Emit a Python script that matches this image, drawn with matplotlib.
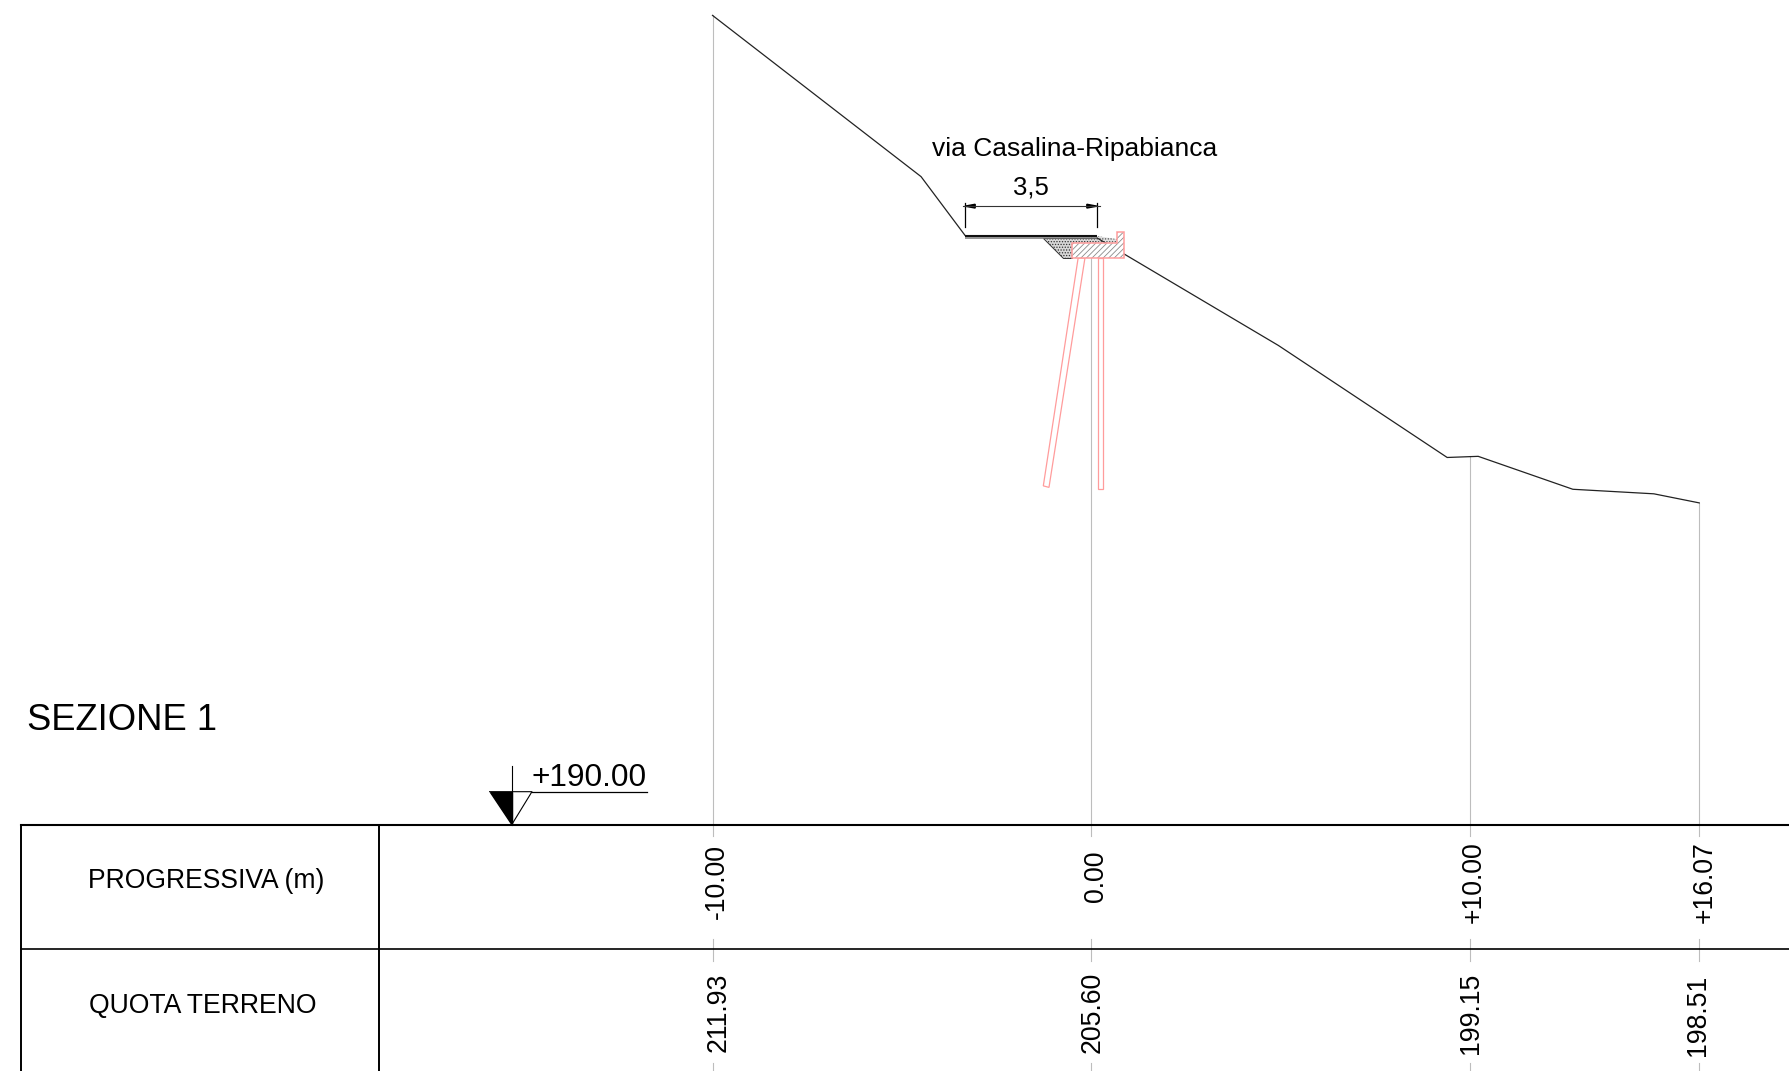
import numpy as np
import matplotlib
matplotlib.use('Agg')
import matplotlib.pyplot as plt
from matplotlib.patches import Polygon

plt.rcParams['font.family'] = ['Liberation Sans', 'DejaVu Sans']
plt.rcParams['hatch.linewidth'] = 0.6

# ground profile, progressive (m) and elevation (m)
terrain_up_x = [-10.0, -4.49, -3.33]
terrain_up_z = [211.39, 207.13, 205.58]
terrain_down_x = [0.16, 4.95, 9.41, 10.23, 12.73, 14.87, 16.07]
terrain_down_z = [205.51, 202.67, 199.71, 199.74, 198.87, 198.75, 198.51]

stations = [-10.0, 0.0, 10.0, 16.07]
station_tops = [211.39, 205.55, 199.74, 198.51]
progressive_labels = ['-10.00', '0.00', '+10.00', '+16.07']
quota_labels = ['211.93', '205.60', '199.15', '198.51']
progressive_dx = [0.11, 0.14, 0.11, 0.15]
progressive_z = [188.5, 188.65, 188.5, 188.5]
quota_dx = [0.17, 0.03, 0.03, -0.03]
quota_z = [185.05, 185.05, 185.02, 184.97]

road_x = [-3.33, 0.16]
road_top_z = [205.57, 205.57]
road_base_z = [205.51, 205.51]

# retaining wall and piles
wall_x = [-0.50, 0.69, 0.69, 0.87, 0.87, -0.50]
wall_z = [205.38, 205.38, 205.67, 205.67, 204.98, 204.98]
pile_a_x = [-0.34, -0.16, -1.11, -1.26]
pile_a_z = [204.98, 204.98, 198.92, 198.96]
pile_b_x = [0.19, 0.33, 0.33, 0.19]
pile_b_z = [204.98, 204.98, 198.88, 198.88]

fill_x = [-1.27, 0.16, 0.16, -0.50, -0.50, -0.74]
fill_z = [205.51, 205.51, 205.38, 205.38, 204.98, 204.98]
crown_x = [0.16, 0.69, 0.69, 0.16]
crown_z = [205.56, 205.48, 205.38, 205.38]

fig = plt.figure(figsize=(17.89, 10.71), dpi=100)
ax = fig.add_axes([0, 0, 1, 1])
# 37.85 px per metre both ways, 0.00 at x=1091, +190 at y=825
ax.set_xlim(-1091 / 37.85, (1789 - 1091) / 37.85)
ax.set_ylim(190 - (1071 - 825) / 37.85, 190 + 825 / 37.85)
ax.axis('off')

grey = '#bdbdbd'
black = '#000000'
red = '#ff9c9c'

for s, t in zip(stations, station_tops):
    ax.plot([s, s], [189.71, t], color=grey, lw=0.8, zorder=1)
    ax.plot([s, s], [187.0, 186.4], color=grey, lw=0.8, zorder=1)
    ax.plot([s, s], [183.7, 183.4], color=grey, lw=0.8, zorder=1)

ax.plot(terrain_up_x, terrain_up_z, color='#222222', lw=0.9)
ax.plot(terrain_down_x, terrain_down_z, color='#222222', lw=0.9)
ax.plot(road_x, road_top_z, color='#111111', lw=1.5, solid_capstyle='butt')
ax.plot(road_x, road_base_z, color='#777777', lw=1.1, solid_capstyle='butt')

ax.add_patch(Polygon(np.column_stack([fill_x, fill_z]), fc='#d8d8d8', ec='#333333', lw=0.7, hatch='......'))
ax.add_patch(Polygon(np.column_stack([crown_x, crown_z]), fc='#e0e0e0', ec='#555555', lw=0, hatch='......'))
ax.add_patch(Polygon(np.column_stack([wall_x, wall_z]), fc='white', ec='#8a8a8a', lw=0, hatch='//////', zorder=2))
ax.add_patch(Polygon(np.column_stack([wall_x, wall_z]), fc='none', ec=red, lw=1.1, zorder=3))
ax.add_patch(Polygon(np.column_stack([pile_a_x, pile_a_z]), fc='none', ec=red, lw=0.9))
ax.add_patch(Polygon(np.column_stack([pile_b_x, pile_b_z]), fc='none', ec=red, lw=0.9))

# road width dimension
ax.plot([-3.33, -3.33], [205.8, 206.43], color=black, lw=0.9)
ax.plot([0.16, 0.16], [205.8, 206.43], color=black, lw=0.9)
ax.plot([-3.38, 0.24], [206.35, 206.35], color='#333333', lw=0.8)
ax.fill([-3.33, -3.06, -3.06], [206.35, 206.40, 206.30], color=black)
ax.fill([0.16, -0.11, -0.11], [206.35, 206.40, 206.30], color=black)
ax.text(-1.59, 206.53, '3,5', fontsize=18.5, ha='center', va='bottom', color=black)
ax.text(-4.2, 207.53, 'via Casalina-Ripabianca', fontsize=19, ha='left', va='bottom', color=black)

# table
ax.plot([-28.28, 18.45], [190, 190], color=black, lw=1.5)
ax.plot([-28.28, 18.45], [186.72, 186.72], color=black, lw=1.2)
ax.plot([-28.28, -28.28], [190, 183.4], color=black, lw=1.4)
ax.plot([-18.81, -18.81], [190, 183.4], color=black, lw=1.4)

ax.text(-23.39, 188.53, 'PROGRESSIVA (m)', fontsize=19.1, ha='center', va='center', color=black)
ax.text(-23.48, 185.23, 'QUOTA TERRENO', fontsize=19.2, ha='center', va='center', color=black)
ax.text(-28.1, 192.76, 'SEZIONE 1', fontsize=26.2, ha='left', va='center', color=black)

for s, p, dx, z in zip(stations, progressive_labels, progressive_dx, progressive_z):
    ax.text(s + dx, z, p, fontsize=19.2, rotation=90, ha='center', va='center', color=black)
for s, q, dx, z in zip(stations, quota_labels, quota_dx, quota_z):
    ax.text(s + dx, z, q, fontsize=19.2, rotation=90, ha='center', va='center', color=black)

# datum marker
ax.fill([-15.31, -15.31, -15.89], [190, 190.88, 190.88], color='black')
ax.plot([-15.31, -14.77, -15.89], [190, 190.88, 190.88], color=black, lw=0.8)
ax.plot([-15.31, -15.31], [190, 191.56], color=black, lw=0.8)
ax.plot([-14.77, -11.72], [190.88, 190.88], color=black, lw=0.9)
ax.text(-14.77, 190.85, '+190.00', fontsize=22.8, ha='left', va='bottom', color=black)

fig.savefig('out.png', dpi=100)
